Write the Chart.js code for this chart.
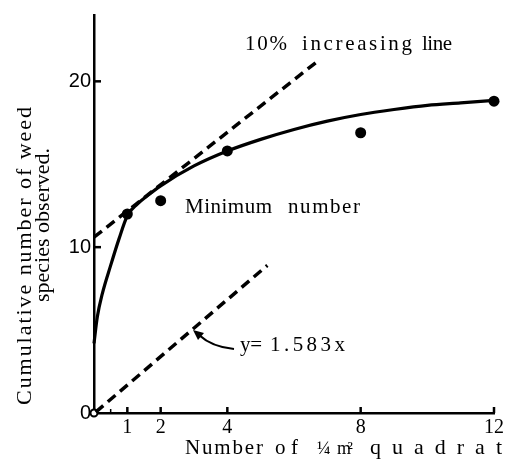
<!DOCTYPE html>
<html>
<head>
<meta charset="utf-8">
<script src="https://cdn.jsdelivr.net/npm/chart.js@4/dist/chart.umd.min.js"></script>
<style>
html,body{margin:0;padding:0;background:#fff;}
#wrap{width:511px;height:464px;position:relative;}
</style>
</head>
<body>
<div id="wrap"><canvas id="c" width="511" height="464"></canvas></div>
<script>
// ---- data ----
const quadratCounts = [1, 2, 4, 8, 12];
const observedSpecies = [12, 12.8, 15.8, 16.9, 18.8];

const curveX = [0, 0.1, 0.25, 0.5, 0.75, 1, 1.3, 1.6, 2, 3, 4, 5, 6, 7, 8, 9, 10, 11, 12];
const curveY = [4.2, 5.8, 7.2, 8.9, 10.5, 11.9, 12.6, 13.1, 13.7, 14.9, 15.8, 16.5, 17.1, 17.6, 18.0, 18.3, 18.55, 18.7, 18.85];

const tenPercentLineX = [0, 6.7];
const tenPercentLineY = [10.6, 21.2];

const referenceLineX = [0.05, 5.2];
const referenceLineY = [0.05, 8.9];

const originX = [0];
const originY = [0];

const xTickValues = [1, 2, 4, 8, 12];
const yTickValues = [0, 10, 20];
const xMinorTicks = [0.5];

const yTitleLines = ["Cumulative number of weed", "species observed."];
const xTitleWords = ["Number", "of", "¼", "m²", "quadrat"];
const noteTenPercent = ["10%", "increasing", "line"];
const noteMinimum = ["Minimum", "number"];
const noteEquation = ["y=", "1.583x"];

const zip = (xs, ys) => xs.map((x, i) => ({x: x, y: ys[i]}));

// ---- helpers ----
function fitText(ctx, text, x1, x2, y) {
  const chars = Array.from(text);
  const widths = chars.map(c => ctx.measureText(c).width);
  const total = widths.reduce((a, b) => a + b, 0);
  const extra = chars.length > 1 ? (x2 - x1 - total) / (chars.length - 1) : 0;
  let x = x1;
  chars.forEach((c, i) => { ctx.fillText(c, x, y); x += widths[i] + extra; });
}

const SERIF = '"Liberation Serif", "DejaVu Serif", serif';

const decorPlugin = {
  id: 'decor',
  afterDraw(chart) {
    const ctx = chart.ctx;
    const xs = chart.scales.x, ys = chart.scales.y;
    const area = chart.chartArea;
    ctx.save();
    ctx.strokeStyle = '#000';
    ctx.fillStyle = '#000';
    // inward tick marks
    ctx.lineWidth = 2.5;
    xTickValues.forEach(v => {
      const px = xs.getPixelForValue(v);
      ctx.beginPath(); ctx.moveTo(px, area.bottom); ctx.lineTo(px, area.bottom - 6); ctx.stroke();
    });
    ctx.lineWidth = 1.5;
    xMinorTicks.forEach(v => {
      const px = xs.getPixelForValue(v);
      ctx.beginPath(); ctx.moveTo(px, area.bottom); ctx.lineTo(px, area.bottom - 4); ctx.stroke();
    });
    ctx.lineWidth = 2.5;
    yTickValues.filter(v => v > 0).forEach(v => {
      const py = ys.getPixelForValue(v);
      ctx.beginPath(); ctx.moveTo(area.left, py); ctx.lineTo(area.left + 7, py); ctx.stroke();
    });

    ctx.textAlign = 'left';
    ctx.textBaseline = 'alphabetic';

    // y axis title (rotated, two lines)
    ctx.font = '22px ' + SERIF;
    ctx.save();
    ctx.translate(31, 405);
    ctx.rotate(-Math.PI / 2);
    fitText(ctx, yTitleLines[0], 0, 405 - 107, 0);
    ctx.restore();
    ctx.save();
    ctx.translate(49, 302);
    ctx.rotate(-Math.PI / 2);
    fitText(ctx, yTitleLines[1], 0, 302 - 148, 0);
    ctx.restore();

    // x axis title
    const xSpans = [[185, 263], [275, 298], [317, 333], [337, 353], [370, 502]];
    xTitleWords.forEach((w, i) => {
      ctx.font = (i === 2 || i === 3 ? '18px ' : (i === 4 ? '22px ' : '21px ')) + SERIF;
      fitText(ctx, w, xSpans[i][0], xSpans[i][1], 454);
    });

    // annotations
    ctx.font = '21px ' + SERIF;
    const tSpans = [[245, 287], [302, 412], [422, 452]];
    noteTenPercent.forEach((w, i) => fitText(ctx, w, tSpans[i][0], tSpans[i][1], 50));
    const mSpans = [[185, 272], [288, 360]];
    noteMinimum.forEach((w, i) => fitText(ctx, w, mSpans[i][0], mSpans[i][1], 213));
    const eSpans = [[240, 262], [270, 345]];
    noteEquation.forEach((w, i) => fitText(ctx, w, eSpans[i][0], eSpans[i][1], 351));

    // curved arrow pointing to the reference line
    ctx.lineWidth = 2.2;
    ctx.beginPath();
    ctx.moveTo(234, 349);
    ctx.quadraticCurveTo(212, 347, 199, 335);
    ctx.stroke();
    ctx.beginPath();
    ctx.moveTo(193, 330);
    ctx.lineTo(204, 333);
    ctx.lineTo(198, 340);
    ctx.closePath();
    ctx.fill();
    ctx.restore();
  }
};

new Chart(document.getElementById('c'), {
  type: 'scatter',
  data: {
    datasets: [
      {
        data: zip(curveX, curveY), showLine: true, borderColor: '#000', borderWidth: 3.2,
        pointRadius: 0, cubicInterpolationMode: 'monotone', fill: false
      },
      {
        data: zip(quadratCounts, observedSpecies), showLine: false,
        pointRadius: 5.5, pointBackgroundColor: '#000', pointBorderColor: '#000', pointBorderWidth: 0
      },
      {
        data: zip(tenPercentLineX, tenPercentLineY), showLine: true, borderColor: '#000', borderWidth: 3.5,
        borderDash: [10, 6], pointRadius: 0
      },
      {
        data: zip(referenceLineX, referenceLineY), showLine: true, borderColor: '#000', borderWidth: 3.5,
        borderDash: [10, 6], pointRadius: 0
      },
      {
        data: zip(originX, originY), showLine: false, pointRadius: 3.5,
        pointBackgroundColor: '#fff', pointBorderColor: '#000', pointBorderWidth: 2
      }
    ]
  },
  options: {
    responsive: false,
    animation: false,
    clip: false,
    layout: { padding: { left: 0, right: 17, top: 10, bottom: 0 } },
    plugins: { legend: { display: false }, tooltip: { enabled: false } },
    scales: {
      x: {
        type: 'linear', min: 0, max: 12,
        grid: { display: false, drawTicks: false },
        border: { display: true, color: '#000', width: 2.5 },
        afterBuildTicks: s => { s.ticks = xTickValues.map(v => ({ value: v })); },
        afterFit: s => { s.height = 51; },
        ticks: { color: '#000', font: { family: SERIF, size: 20 }, padding: 3, maxRotation: 0, autoSkip: false }
      },
      y: {
        type: 'linear', min: 0, max: 24,
        grid: { display: false, drawTicks: false },
        border: { display: true, color: '#000', width: 2.5 },
        afterBuildTicks: s => { s.ticks = yTickValues.map(v => ({ value: v })); },
        afterFit: s => { s.width = 94; },
        ticks: { color: '#000', font: { family: '"Liberation Sans", Arial, sans-serif', size: 20 }, padding: 3, autoSkip: false }
      }
    }
  },
  plugins: [decorPlugin]
});
</script>
</body>
</html>
